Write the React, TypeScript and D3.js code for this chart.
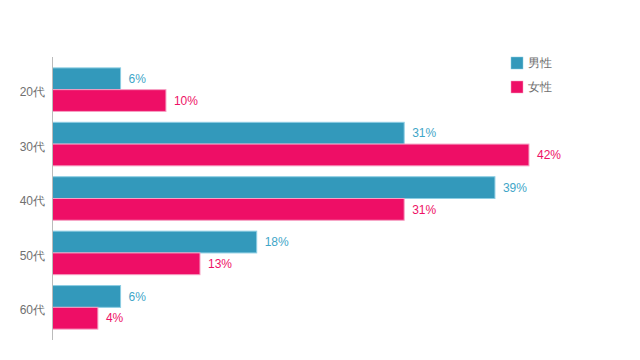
import React from "react";
import * as d3 from "d3";

const categories = ["20代", "30代", "40代", "50代", "60代"];
const seriesNames = ["男性", "女性"];
const maleValues = [6, 31, 39, 18, 6];
const femaleValues = [10, 42, 31, 13, 4];

const colors = ["#3399bb", "#ee0e66"];
const strokes = ["#8ccde3", "#f6a0c3"];
const labelColors = ["#3fa6c8", "#ee1166"];

export default function App() {
  const width = 640;
  const height = 360;
  const x = d3.scaleLinear().domain([0, 45]).range([52.5, 563]);
  const y = d3.scaleBand<string>().domain(categories).range([57, 340]).paddingInner(0.2).paddingOuter(0.2);
  const bw = y.bandwidth() / 2;
  const series = [maleValues, femaleValues];
  const font = "'Liberation Sans', Arial, sans-serif";
  return (
    <svg width={width} height={height} style={{ position: "absolute", left: 0, top: 0 }} fontFamily={font}>
      <rect x={0} y={0} width={width} height={height} fill="#fff" />
      {series.map((vals, si) =>
        vals.map((v, i) => {
          const y0 = (y(categories[i]) as number) + si * bw;
          return (
            <g key={`${si}-${i}`}>
              <rect x={x(0)} y={y0} width={x(v) - x(0)} height={bw} fill={colors[si]} stroke={strokes[si]} strokeWidth={1} />
              <text x={x(v) + 8} y={y0 + bw / 2} dy="0.35em" fontSize={12} fill={labelColors[si]}>
                {v}%
              </text>
            </g>
          );
        })
      )}
      <line x1={52.5} x2={52.5} y1={57} y2={340} stroke="#bbb" strokeWidth={1} />
      {categories.map((c) => (
        <text key={c} x={45} y={(y(c) as number) + y.bandwidth() / 2 + 2.5} dy="0.35em" textAnchor="end" fontSize={12} fill="#707070">
          {c}
        </text>
      ))}
      {seriesNames.map((n, i) => (
        <g key={n} transform={`translate(511, ${57 + i * 24})`}>
          <rect x={0} y={0} width={12} height={12} fill={colors[i]} stroke={strokes[i]} strokeWidth={0.5} />
          <text x={17} y={6} dy="0.35em" fontSize={12} fill="#707070">
            {n}
          </text>
        </g>
      ))}
    </svg>
  );
}
